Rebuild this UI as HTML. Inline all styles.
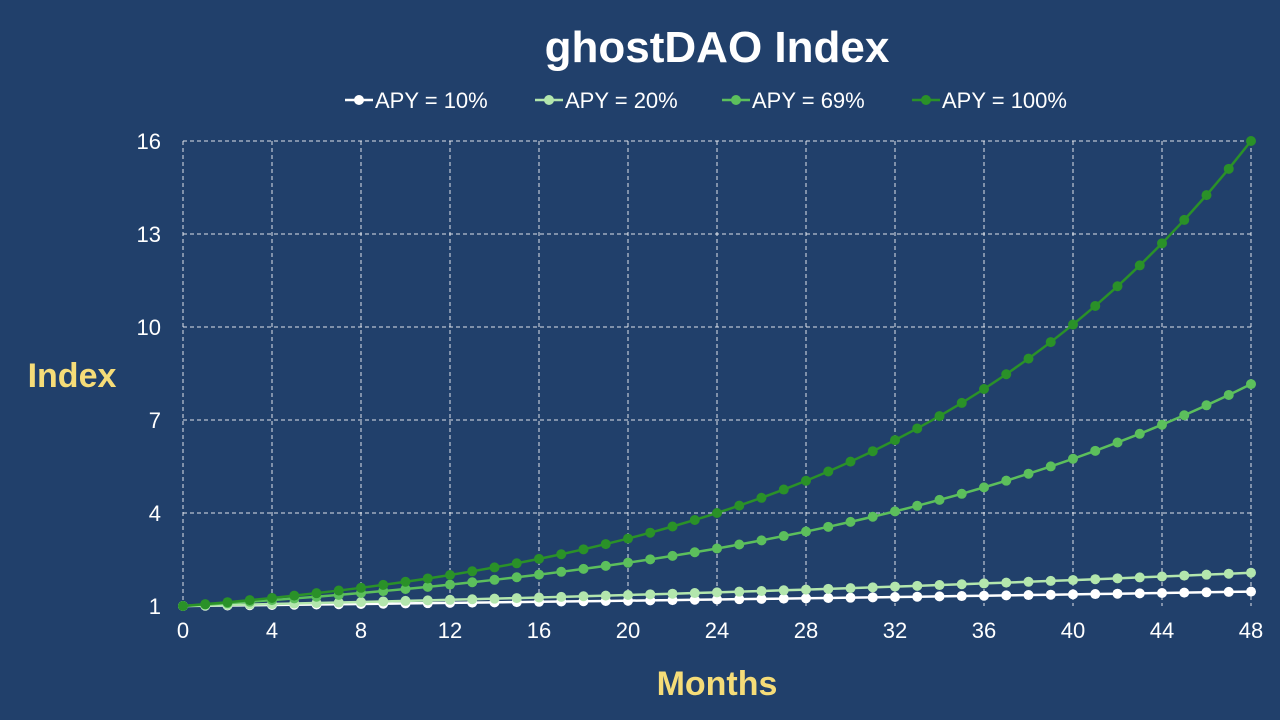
<!DOCTYPE html>
<html><head><meta charset="utf-8"><style>
body{margin:0;background:#21406b;font-family:"Liberation Sans","DejaVu Sans",sans-serif}
svg{display:block}
</style></head><body>
<svg id="chart" width="1280" height="720">
<rect width="1280" height="720" fill="#21406b"/>
<text x="717" y="62" fill="#fff" font-size="44" font-weight="bold" text-anchor="middle">ghostDAO Index</text>
<text x="72" y="387" fill="#f5dc78" font-size="34" font-weight="bold" text-anchor="middle">Index</text>
<text x="717" y="695" fill="#f5dc78" font-size="34" font-weight="bold" text-anchor="middle">Months</text>
<g id="grid"></g><g id="ticks"></g><g id="series"></g><g id="legend"></g>
</svg>
<script>
const months = Array.from({length:49},(_,i)=>i);
const xTicks = [0,4,8,12,16,20,24,28,32,36,40,44,48];
const yTicks = [1,4,7,10,13,16];
const seriesNames = ["APY = 10%","APY = 20%","APY = 69%","APY = 100%"];
const apy10 = [1,1.008,1.016,1.024,1.032,1.040,1.049,1.057,1.066,1.074,1.083,1.091,1.100,1.109,1.117,1.127,1.136,1.145,1.154,1.163,1.172,1.182,1.191,1.201,1.210,1.220,1.229,1.239,1.249,1.259,1.269,1.280,1.290,1.300,1.311,1.321,1.331,1.342,1.353,1.364,1.375,1.386,1.397,1.408,1.419,1.431,1.442,1.454,1.464];
const apy20 = [1,1.015,1.031,1.047,1.063,1.079,1.095,1.112,1.129,1.147,1.164,1.182,1.2,1.218,1.237,1.256,1.275,1.295,1.315,1.335,1.355,1.376,1.397,1.418,1.44,1.462,1.484,1.507,1.530,1.554,1.577,1.601,1.626,1.651,1.676,1.702,1.728,1.754,1.781,1.809,1.836,1.864,1.893,1.922,1.951,1.981,2.011,2.042,2.074];
const apy69 = [1,1.045,1.091,1.140,1.191,1.244,1.3,1.358,1.419,1.482,1.549,1.618,1.69,1.766,1.845,1.927,2.013,2.103,2.197,2.295,2.398,2.505,2.617,2.734,2.856,2.984,3.117,3.257,3.402,3.554,3.713,3.879,4.052,4.233,4.423,4.620,4.827,5.043,5.268,5.503,5.749,6.006,6.275,6.555,6.848,7.154,7.474,7.808,8.157];
const apy100 = [1,1.059,1.122,1.189,1.260,1.335,1.414,1.498,1.587,1.682,1.782,1.888,2,2.119,2.245,2.378,2.520,2.670,2.828,2.997,3.175,3.364,3.564,3.775,4,4.238,4.490,4.757,5.040,5.339,5.657,5.993,6.350,6.727,7.127,7.551,8,8.476,8.980,9.514,10.079,10.679,11.314,11.986,12.699,13.454,14.254,15.102,16];
const colors = ["#ffffff","#b3e6ad","#5cbf5c","#2a9128"];
const allSeries = [apy10,apy20,apy69,apy100];
const NS="http://www.w3.org/2000/svg";
const X0=183,X1=1251,Y0=606,Y1=141;
const xScale=v=>X0+(v-0)/(48-0)*(X1-X0);
const yScale=v=>Y0-(v-1)/(16-1)*(Y0-Y1);
function mk(tag,attrs,parent){const e=document.createElementNS(NS,tag);for(const k in attrs)e.setAttribute(k,attrs[k]);parent.appendChild(e);return e;}
const grid=document.getElementById('grid'),ticks=document.getElementById('ticks'),ser=document.getElementById('series'),leg=document.getElementById('legend');
xTicks.forEach(t=>{
  const l=mk('line',{x1:xScale(t),x2:xScale(t),y1:Y1,y2:Y0,stroke:'#fff','stroke-width':1,'stroke-dasharray':'4,3',opacity:0.85},grid);
  
  
  const tx=mk('text',{x:xScale(t),y:Y0+32,fill:'#fff','font-size':22,'text-anchor':'middle'},ticks);
  tx.textContent=t;
  
  
});
yTicks.forEach(t=>{
  const l=mk('line',{x1:X0,x2:X1,y1:yScale(t),y2:yScale(t),stroke:'#fff','stroke-width':1,'stroke-dasharray':'4,3',opacity:t===1?0:0.85},grid);
  
  
  const tx=mk('text',{x:161,y:yScale(t)+8,fill:'#fff','font-size':22,'text-anchor':'end'},ticks);
  tx.textContent=t;
  
  
});
allSeries.forEach((s,i)=>{
  const g=mk('g',{},ser);
  
  
  const pts=s.map((v,j)=>xScale(months[j])+','+yScale(v)).join(' ');
  mk('polyline',{points:pts,fill:'none',stroke:colors[i],'stroke-width':2.5},g);
  s.forEach((v,j)=>{
    const c=mk('circle',{cx:xScale(months[j]),cy:yScale(v),r:5,fill:colors[i]},g);
    
    
  });
});
const legX=[345,535,722,912];
seriesNames.forEach((n,i)=>{
  const g=mk('g',{},leg);
  
  
  mk('line',{x1:legX[i],x2:legX[i]+28,y1:100,y2:100,stroke:colors[i],'stroke-width':2.5},g);
  mk('circle',{cx:legX[i]+14,cy:100,r:5,fill:colors[i]},g);
  const t=mk('text',{x:legX[i]+30,y:108,fill:'#fff','font-size':22},g);
  t.textContent=n;
});
</script>
</body></html>
